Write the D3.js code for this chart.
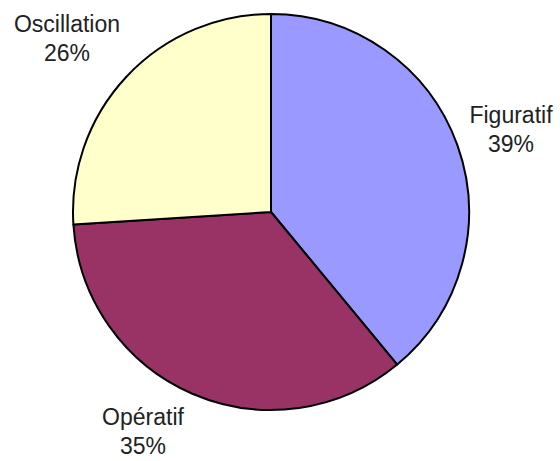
<!DOCTYPE html>
<html>
<head>
<meta charset="utf-8">
<script src="https://d3js.org/d3.v7.min.js"></script>
<style>
  body { margin: 0; background: #fff; }
</style>
</head>
<body>
<div id="chart"></div>
<script>

// the data
var categories = ["Figuratif", "Opératif", "Oscillation"];
var values = [39, 35, 26];
var colors = ["#9999FF", "#993366", "#FFFFCC"];

// label spots (centre of the two lines)
var labelPos = [[511, 123], [143, 425], [67, 32]];

var width = 560, height = 461;
var cx = 271, cy = 212, radius = 198;

var svg = d3.select("#chart")
    .append("svg")
    .attr("width", width)
    .attr("height", height);

var data = categories.map(function (c, i) { return {name: c, value: values[i], color: colors[i], pos: labelPos[i]}; });

var pie = d3.pie()
    .sort(null)
    .value(function (d) { return d.value; });

var arc = d3.arc()
    .innerRadius(0)
    .outerRadius(radius);

var g = svg.append("g")
    .attr("transform", `translate(${cx}, ${cy})`);

// slices
g.selectAll("path")
    .data(pie(data))
    .join("path")
    .attr("d", arc)
    .attr("fill", function (d) { return d.data.color; })
    .attr("stroke", "#000")
    .attr("stroke-width", 2)
    .attr("stroke-linejoin", "round");

// labels
var lab = svg.append("g")
    .selectAll("text")
    .data(data)
    .join("text")
    .attr("text-anchor", "middle")
    .style("font-family", "'Liberation Sans', Arial, sans-serif")
    .style("font-size", "23px")
    .attr("fill", "#222");

lab.append("tspan")
    .attr("x", function (d) { return d.pos[0]; })
    .attr("y", function (d) { return d.pos[1]; })
    .text(function (d) { return d.name; });

lab.append("tspan")
    .attr("x", function (d) { return d.pos[0]; })
    .attr("y", function (d) { return d.pos[1] + 29; })
    .text(function (d) { return d.value + "%"; });

</script>
</body>
</html>
